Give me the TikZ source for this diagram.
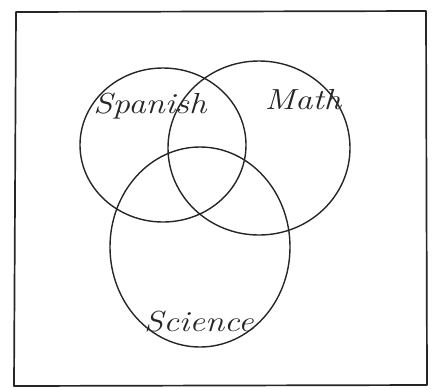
\documentclass[tikz,border=0pt]{standalone}
\begin{document}
\begin{tikzpicture}[x=1pt,y=-1pt,
  pen/.style={draw=black!85,line width=1.4pt,line cap=round,line join=round},
  lab/.style={font=\fontsize{29}{31}\selectfont\itshape,text=black!85,inner sep=0pt,xscale=1.2}]
\useasboundingbox (0,0) rectangle (433,389);
\draw[pen,line width=1.7pt] (16,12) -- (426,11) -- (427,385) -- (14,386) -- cycle;
\draw[pen] (163,145) ellipse [x radius=83, y radius=77];
\draw[pen] (259,148) ellipse [x radius=91, y radius=87];
\draw[pen] (200,247) ellipse [x radius=90, y radius=100];
\node[lab] (sp) at (150,106) {Spanish};
\node[lab] (ma) at (303,100) {Math};
\node[lab] (sc) at (199,322) {Science};
\end{tikzpicture}
\end{document}
